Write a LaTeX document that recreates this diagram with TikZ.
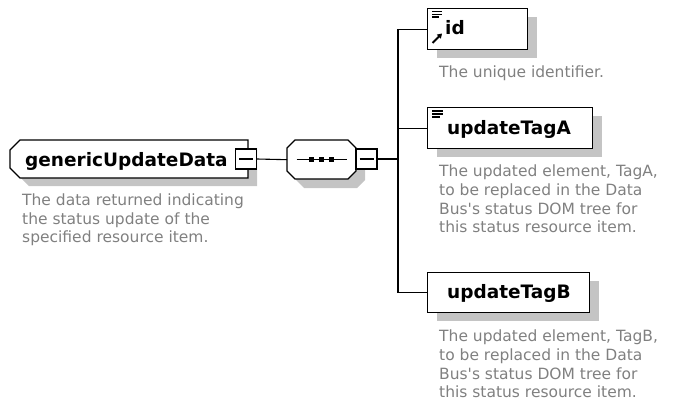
\documentclass[tikz,border=0pt]{standalone}
\usepackage{fontspec}
\setmainfont{DejaVu Sans}[Ligatures=TeXOff]
\usetikzlibrary{shadows,arrows.meta}
\definecolor{shgray}{HTML}{C4C4C4}
\definecolor{docgray}{HTML}{808080}
\tikzset{
  shade box/.style={drop shadow={shadow xshift=9pt,shadow yshift=-8pt,fill=shgray,opacity=1}},
  elembox/.style={draw,line width=1.4pt,fill=white,inner sep=0pt,anchor=north west,shade box},
  frame/.style={inner sep=0pt,anchor=north west},
  outline/.style={draw,line width=1.4pt,fill=white},
  shadowfill/.style={fill=shgray},
  collapse/.style={draw,line width=1.2pt,fill=white,inner sep=0pt,
    minimum width=21pt,minimum height=20pt,
    path picture={\draw[line width=1.1pt]
      ([xshift=-7pt]path picture bounding box.center) -- ([xshift=7pt]path picture bounding box.center);}},
  elemname/.style={font=\fontsize{18.5}{20}\selectfont\bfseries,inner sep=0pt,anchor=base west},
  doc/.style={font=\fontsize{15.5}{18.6}\selectfont,text=docgray,align=left,inner sep=0pt,anchor=north west},
  wire/.style={line width=1.1pt}
}
\begin{document}
\begin{tikzpicture}[x=1pt,y=-1pt]
\useasboundingbox (0,0) rectangle (678,412);

% root element: box with cut corners on the left side
\node[frame,minimum width=238pt,minimum height=38pt] (root) at (10,140) {};
\fill[shadowfill] (29,148) -- (257,148) -- (257,186) -- (29,186) -- (19,176) -- (19,158) -- cycle;
\path[outline] (20,140) -- (248,140) -- (248,178) -- (20,178) -- (10,168) -- (10,150) -- cycle;
\node[elemname] (rootname) at (25,166) {genericUpdateData};
\node[collapse] (rootminus) at (246,159) {};
\node[doc] (rootdoc) at (22,193.5) {The data returned indicating\\the status update of the\\specified resource item.};

% sequence compositor: octagon with a dotted bar
\node[frame,minimum width=69pt,minimum height=39pt] (seq) at (287,140) {};
\fill[shadowfill] (304,149) -- (357,149) -- (365,157) -- (365,180) -- (357,188) -- (304,188)
  -- (296,180) -- (296,157) -- cycle;
\path[outline] (295,140) -- (348,140) -- (356,148) -- (356,171) -- (348,179) -- (295,179)
  -- (287,171) -- (287,148) -- cycle;
\draw[wire] ([xshift=-25pt]seq.center) -- ([xshift=25pt]seq.center);
\foreach \dx in {-10,0,10}
  \fill ([xshift=\dx pt]seq.center) +(-2.3pt,-2.3pt) rectangle +(2.3pt,2.3pt);
\node[collapse] (seqminus) at (366.5,159) {};
\coordinate (bus) at (398,159);

% child elements
\node[elembox,minimum width=100pt,minimum height=41pt] (id) at (427,8) {};
\node[elemname] (idname) at (445,35) {id};
\node[doc] (iddoc) at (439,65.5) {The unique identifier.};

\node[elembox,minimum width=165pt,minimum height=41pt] (tagA) at (427,107) {};
\node[elemname] (tagAname) at (447,135) {updateTagA};
\node[doc] (tagAdoc) at (439,165) {The updated element, TagA,\\to be replaced in the Data\\Bus's status DOM tree for\\this status resource item.};

\node[elembox,minimum width=162pt,minimum height=40pt] (tagB) at (427,272) {};
\node[elemname] (tagBname) at (447,298) {updateTagB};
\node[doc] (tagBdoc) at (439,330) {The updated element, TagB,\\to be replaced in the Data\\Bus's status DOM tree for\\this status resource item.};

% annotation and reference icons
\foreach \yy/\len in {11.7/10,14.4/10,17.1/7}
  \draw[line width=1.2pt] (432,\yy) -- ++(\len,0);
\draw[line width=1.8pt,-{Triangle[length=4.5pt,width=5.5pt]}] (432.5,43) -- (442,33.5);
\foreach \yy/\len in {111/11,114/11,117/8}
  \draw[line width=1.2pt] (432,\yy) -- ++(\len,0);

% connectors
\draw[wire] (rootminus.east) -- (seq.west);
\draw[wire] (seqminus.east) -- (bus);
\draw[wire] (bus) |- (id.west);
\draw[wire] (bus) |- (tagA.west);
\draw[wire] (bus) |- (tagB.west);
\end{tikzpicture}
\end{document}
